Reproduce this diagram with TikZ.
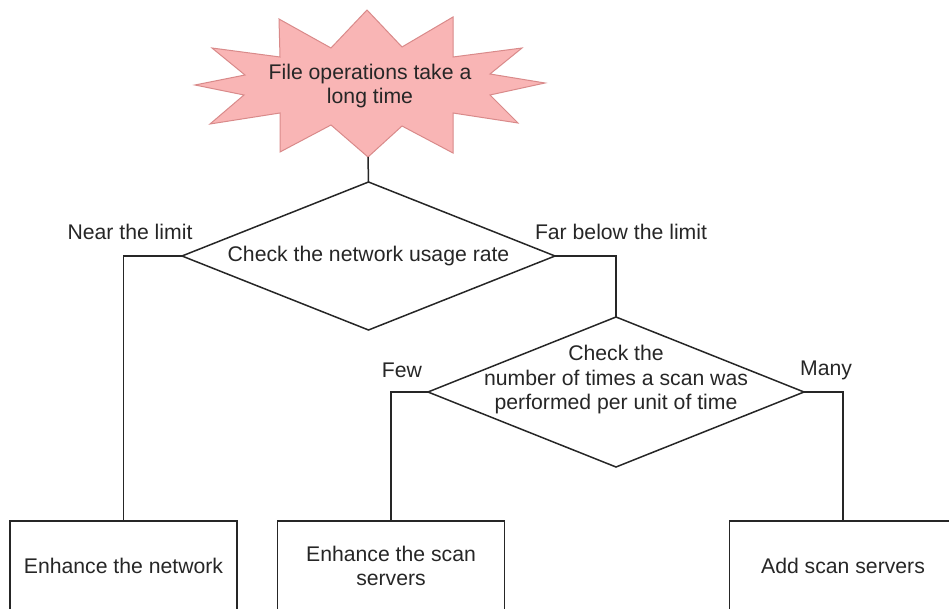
\documentclass[tikz,border=0pt]{standalone}
\usepackage{fontspec}
\setmainfont{Liberation Sans}
\usetikzlibrary{shapes.geometric}
\definecolor{burstfill}{HTML}{F9B5B5}
\definecolor{burstline}{HTML}{D98A8A}
\definecolor{ink}{HTML}{262626}
\tikzset{
  txt/.style={text=ink, inner sep=0pt, outer sep=0pt},
  dia/.style={diamond, draw=ink, line width=1.5pt, inner sep=0pt, outer sep=0pt},
  boxnode/.style={draw=ink, line width=1.5pt, minimum width=227pt, minimum height=90pt, inner sep=0pt, outer sep=0pt, text=ink, align=center},
  conn/.style={draw=ink, line width=1.5pt},
  burst/.style={fill=burstfill, draw=burstline, line width=1pt, line join=miter}
}
\begin{document}
\begin{tikzpicture}[x=1pt,y=-1pt, font=\fontsize{21.2}{24.5}\selectfont]
\useasboundingbox (0,0) rectangle (949,609);
\clip (0,0) rectangle (949,609);
% starburst
\draw[burst] (367,10) -- (402,47) -- (453,17) -- (453,57) -- (522,48) -- (490,74) -- (545,83) -- (490,95) -- (518,123) -- (453,113) -- (453,153) -- (402,126) -- (368,157) -- (331,125) -- (280,152) -- (280,113) -- (210,124) -- (244,95) -- (195,85) -- (245,75) -- (212,48) -- (280,57) -- (279,19) -- (331,48) -- cycle;
\coordinate (bb) at (368,157);
\node[txt, align=center] (burst) at (370,86) {File operations take a\\long time};
% diamonds
\node[dia, minimum width=373pt, minimum height=148pt] (d1) at (368.5,256) {};
\node[txt] (d1t) at (368.5,256) {Check the network usage rate};
\node[dia, minimum width=376pt, minimum height=150pt] (d2) at (616,392) {};
\node[txt, align=center] (d2t) at (616,380) {Check the\\number of times a scan was\\performed per unit of time};
% boxes
\node[boxnode, anchor=north] (b1) at (123.5,521) {Enhance the network};
\node[boxnode, anchor=north] (b2) at (391,521) {Enhance the scan\\servers};
\node[boxnode, anchor=north] (b3) at (843,521) {Add scan servers};
% connectors
\draw[conn] (bb) -- (d1.north);
\draw[conn] (d1.west) -| (b1.north);
\draw[conn] (d1.east) -| (d2.north);
\draw[conn] (d2.west) -| (b2.north);
\draw[conn] (d2.east) -| (b3.north);
% labels
\node[txt] (lnear) at (130,232) {Near the limit};
\node[txt] (lfar) at (621,232) {Far below the limit};
\node[txt] (lfew) at (402,370) {Few};
\node[txt] (lmany) at (826,370) {Many};
\end{tikzpicture}
\end{document}
